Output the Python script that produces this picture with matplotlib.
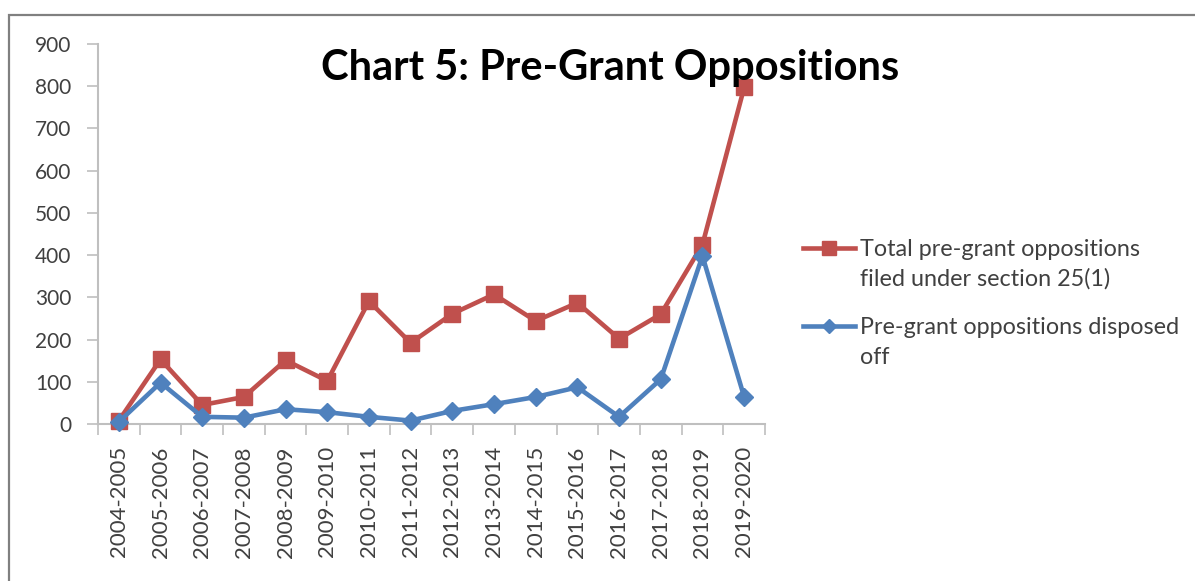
import matplotlib
matplotlib.use("Agg")
import matplotlib.pyplot as plt
from matplotlib.patches import Rectangle
from matplotlib.lines import Line2D
import numpy as np

years = ["2004-2005", "2005-2006", "2006-2007", "2007-2008", "2008-2009",
         "2009-2010", "2010-2011", "2011-2012", "2012-2013", "2013-2014",
         "2014-2015", "2015-2016", "2016-2017", "2017-2018", "2018-2019",
         "2019-2020"]
total_filed = [8, 153, 45, 64, 151, 102, 291, 192, 261, 307, 244, 287, 202, 260, 425, 797]
disposed = [5, 98, 17, 15, 35, 28, 17, 8, 31, 47, 64, 87, 17, 106, 398, 64]
label_total = "Total pre-grant oppositions\nfiled under section 25(1)"
label_disposed = "Pre-grant oppositions disposed\noff"
title = "Chart 5: Pre-Grant Oppositions"

plt.rcParams['font.family'] = ['Lato', 'DejaVu Sans']

W, H = 1195, 581
fig = plt.figure(figsize=(W / 100, H / 100), dpi=100)
fig.patches.append(Rectangle((9 / W, -0.05), 1.2, 1 - 15 / H + 0.05,
                             transform=fig.transFigure, fill=False,
                             edgecolor="#808080", linewidth=1.6))

ax = fig.add_axes([98 / W, 1 - 424 / H, (765 - 98) / W, (424 - 44) / H])
x = np.arange(len(years))
red = "#C0504D"
blue = "#4F81BD"
red_style = dict(color=red, lw=3.3, marker="s", markersize=11.5)
blue_style = dict(color=blue, lw=3.3, marker="D", markersize=9)
ax.plot(x, total_filed, zorder=3, clip_on=False, **red_style)
ax.plot(x, disposed, zorder=4, clip_on=False, **blue_style)

ax.set_xlim(-0.5, len(years) - 0.5)
ax.set_ylim(0, 900)
ax.set_yticks(np.arange(0, 901, 100))
ax.set_xticks(x)
ax.set_xticklabels(years, rotation=90, fontsize=16, color="#404040")
ax.set_xticks(np.arange(-0.5, len(years), 1), minor=True)
ax.tick_params(axis="x", which="major", length=0, pad=16)
ax.tick_params(axis="x", which="minor", length=8, color="#bfbfbf", width=1.2)
ax.tick_params(axis="y", length=8, color="#bfbfbf", width=1.2, labelsize=15,
               labelcolor="#404040", pad=11)
for s in ["top", "right"]:
    ax.spines[s].set_visible(False)
for s in ["left", "bottom"]:
    ax.spines[s].set_color("#bfbfbf")
    ax.spines[s].set_linewidth(1.5)

fig.text(610 / W, 1 - 80 / H, title, ha="center", va="baseline",
         fontsize=30, fontweight="bold", color="black")

# legend (handle aligned with first text line, as in the reference)
for lab, style, y_top in [(label_total, red_style, 248), (label_disposed, blue_style, 326)]:
    lw = style["lw"]
    ms = style["markersize"] * (0.85 if style["marker"] == "s" else 0.8)
    fig.add_artist(Line2D([803 / W, 829 / W, 855 / W], [1 - y_top / H] * 3,
                          transform=fig.transFigure, color=style["color"], lw=lw,
                          marker=style["marker"], markersize=ms, markevery=[1]))
    fig.text(860 / W, 1 - (y_top + 8) / H, lab.split("\n")[0], ha="left",
             va="baseline", fontsize=16.8, color="#404040")
    fig.text(860 / W, 1 - (y_top + 38) / H, lab.split("\n")[1], ha="left",
             va="baseline", fontsize=16.8, color="#404040")

fig.savefig("out.png", dpi=100)
